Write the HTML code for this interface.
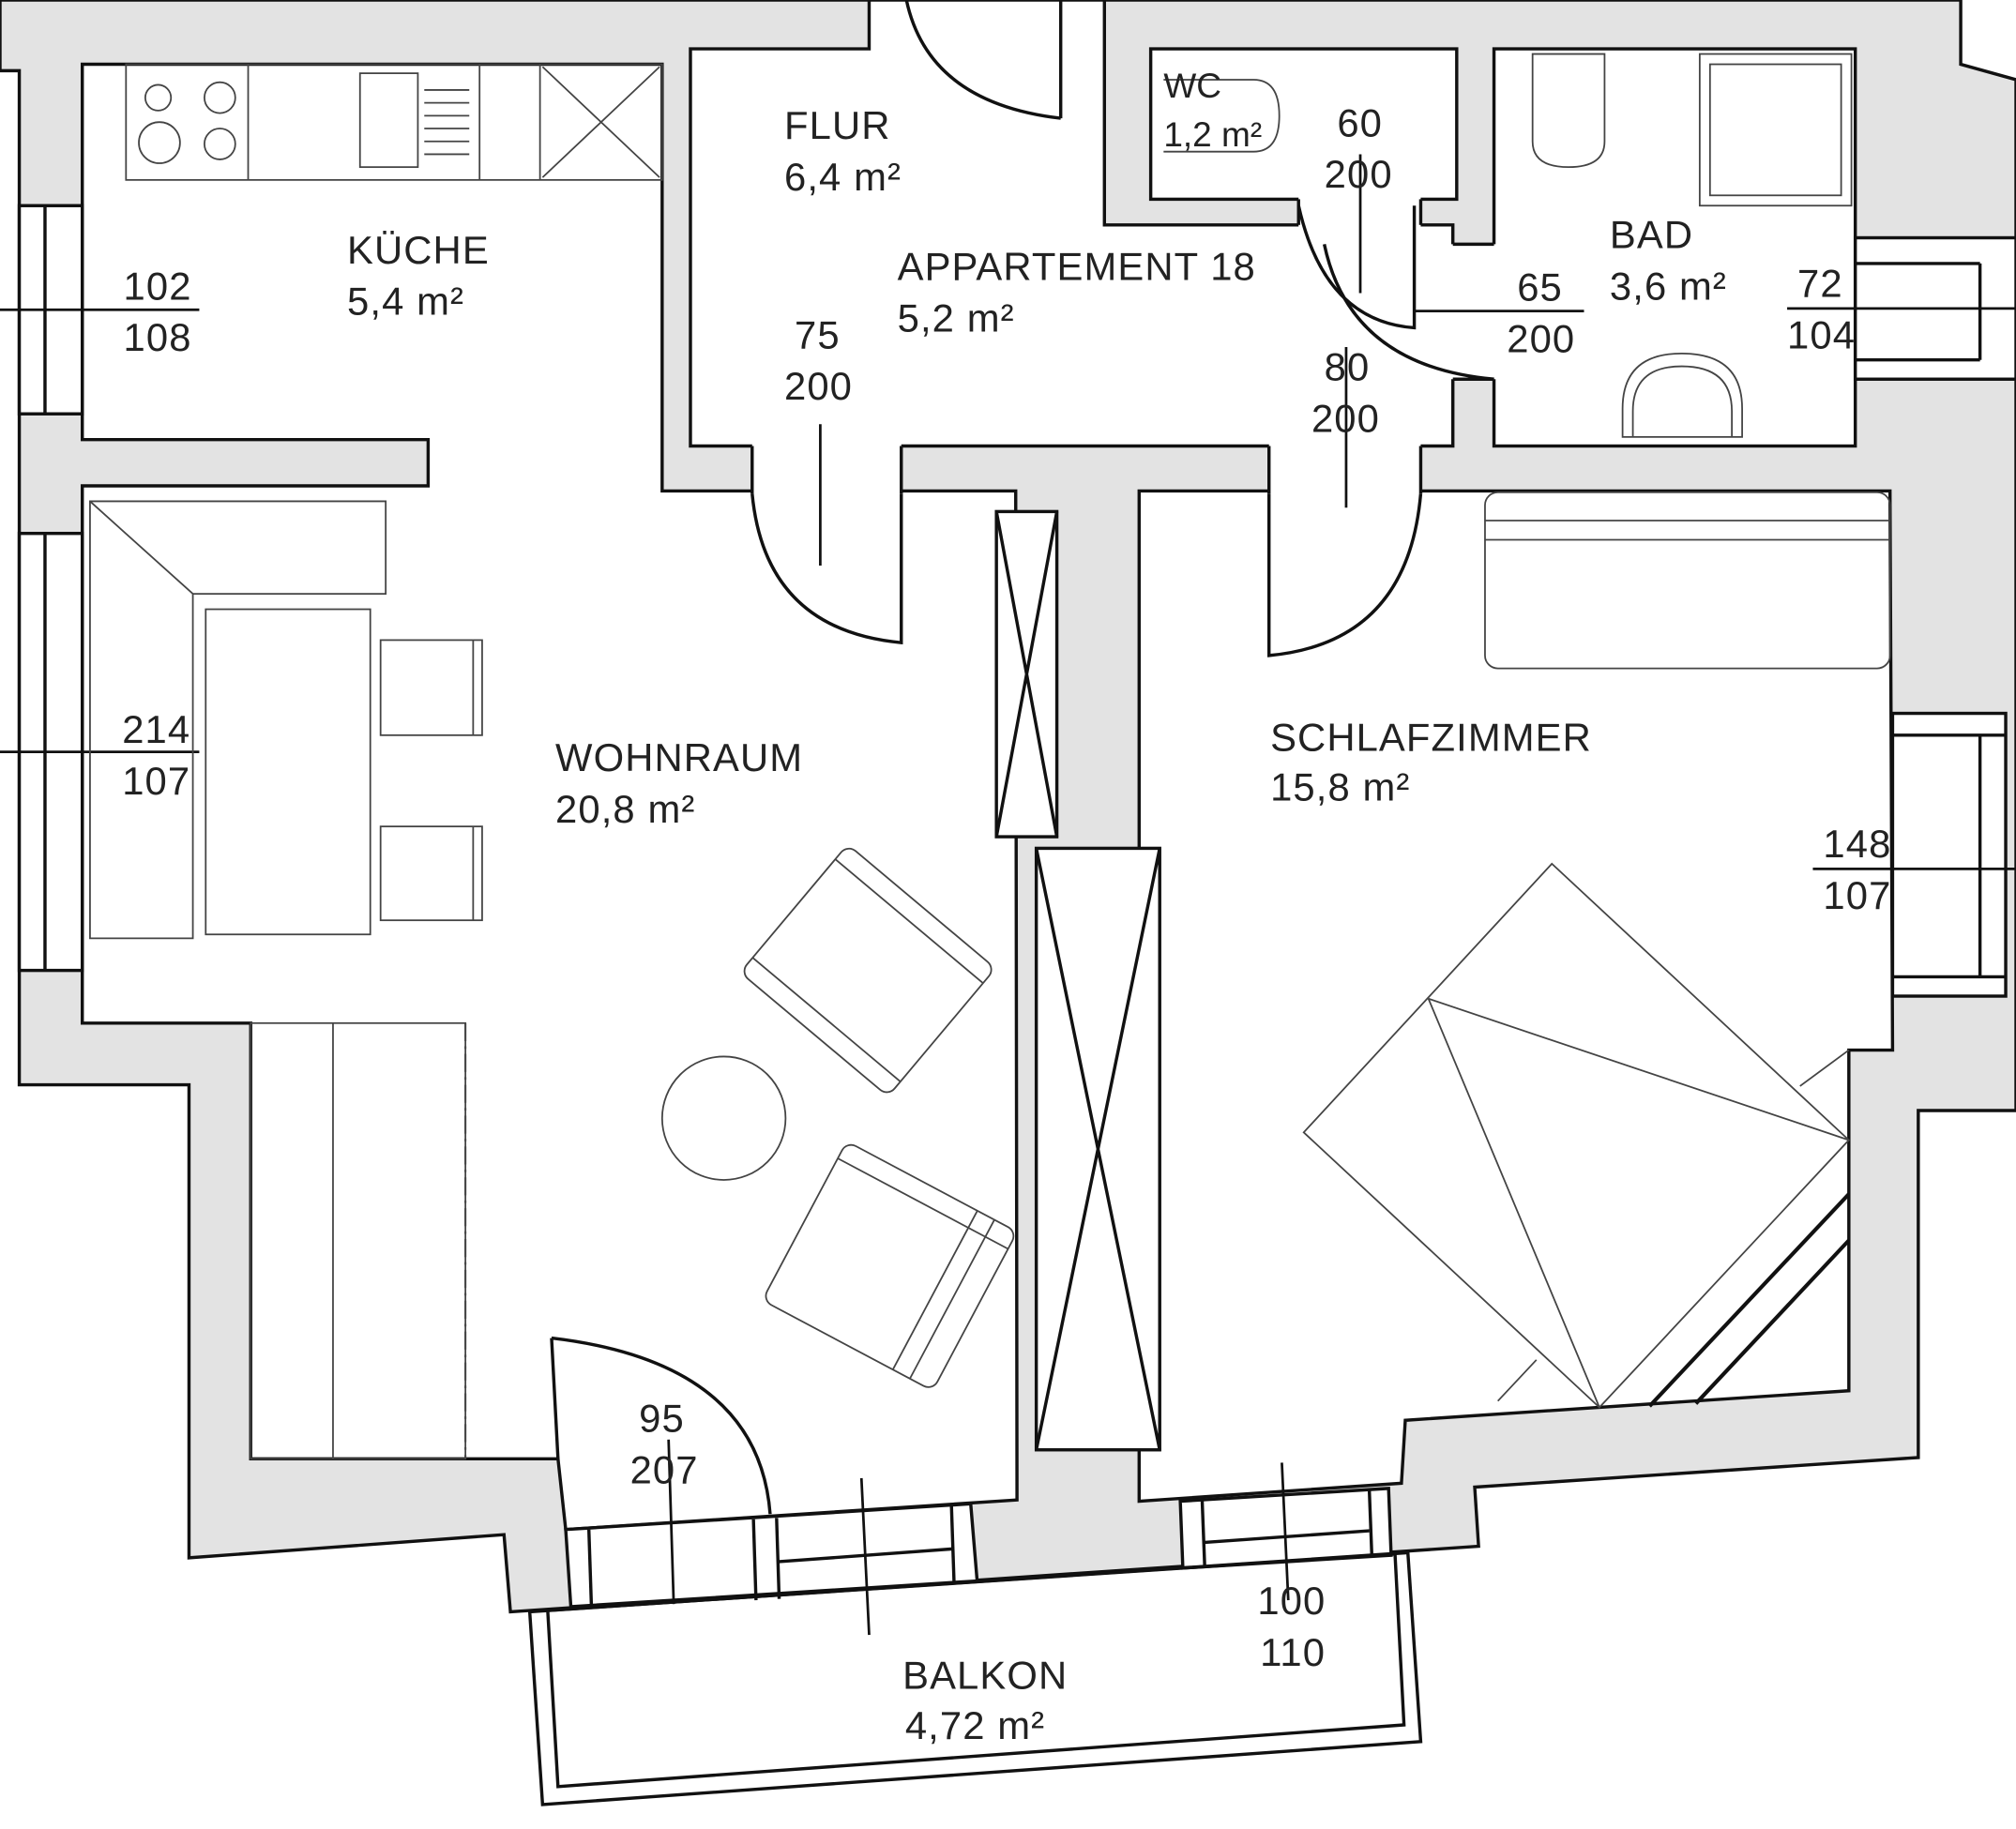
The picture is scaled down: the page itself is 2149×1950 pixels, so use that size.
<!DOCTYPE html>
<html><head><meta charset="utf-8"><style>
html,body{margin:0;padding:0;background:#fff;}
svg{display:block;}
text{font-family:"Liberation Sans",Arial,sans-serif;font-size:30.5px;letter-spacing:0.8px;fill:#222;}
</style></head><body>
<svg width="2149" height="1950" viewBox="0 0 1568 1423" preserveAspectRatio="none" xmlns="http://www.w3.org/2000/svg">
<rect width="1568" height="1423" fill="#fff"/>
<polygon points="0,0 1525,0 1525,50 1568,62 1568,864 1492,864 1492,1134 1147,1157 1150,1203 766,1229 397,1254 392,1194 147,1212 147,844 15,844 15,55 0,55" fill="#e3e3e3" stroke="#111" stroke-width="2.5"/>
<rect x="676" y="0" width="183" height="40" fill="#fff"/>
<g fill="#fff" stroke="#111" stroke-width="2.5">
<polygon points="64,50 515,50 515,382 790,382 791,1167 440,1190 434,1135 195,1135 195,796 64,796 64,378 333,378 333,342 64,342"/>
<polygon points="537,38 676,38 676,0 859,0 859,175 1130,175 1130,347 537,347"/>
<rect x="895" y="38" width="238" height="117"/>
<rect x="1162" y="38" width="281" height="309"/>
<polygon points="886,382 1470,382 1472,817 1438,817 1438,1082 1093,1105 1090,1154 886,1168"/>
</g>
<g fill="#fff" stroke="none">
<rect x="585" y="345" width="116" height="39"/>
<rect x="987" y="345" width="118" height="39"/>
<rect x="1010" y="152" width="95" height="25"/>
<rect x="1128" y="190" width="36" height="105"/>
</g>
<g fill="none" stroke="#111" stroke-width="2.5">
<line x1="585" y1="347" x2="585" y2="384"/><line x1="701" y1="347" x2="701" y2="384"/>
<line x1="987" y1="347" x2="987" y2="384"/><line x1="1105" y1="347" x2="1105" y2="384"/>
<line x1="1130" y1="190" x2="1162" y2="190"/><line x1="1130" y1="295" x2="1162" y2="295"/>
<line x1="1010" y1="155" x2="1010" y2="175"/><line x1="1105" y1="155" x2="1105" y2="175"/>
<line x1="825" y1="0" x2="825" y2="92"/><path d="M705,0 Q722,80 825,92"/>
<path d="M585,384 Q595,490 701,500 L701,384"/>
<path d="M987,384 L987,510 Q1095,500 1105,384"/>
<path d="M1010,160 Q1030,250 1100,255 L1100,160"/>
<path d="M1030,190 Q1050,285 1162,295"/>
<path d="M429,1041 Q590,1060 599,1178 M429,1041 L434,1135"/>
<rect x="775" y="398" width="47" height="253" fill="#fff"/>
<path d="M775,398 L822,651 M822,398 L775,651"/>
<rect x="806" y="660" width="96" height="468" fill="#fff"/>
<path d="M806,660 L902,1128 M902,660 L806,1128"/>
<rect x="15" y="160" width="49" height="162" fill="#fff"/>
<line x1="35" y1="160" x2="35" y2="322"/>
<rect x="15" y="415" width="49" height="340" fill="#fff"/>
<line x1="35" y1="415" x2="35" y2="755"/>
<rect x="1443" y="185" width="125" height="110" fill="#fff"/>
<line x1="1443" y1="205" x2="1540" y2="205"/><line x1="1443" y1="280" x2="1540" y2="280"/><line x1="1540" y1="205" x2="1540" y2="280"/>
<rect x="1472" y="555" width="88" height="220" fill="#fff"/>
<line x1="1472" y1="572" x2="1560" y2="572"/><line x1="1472" y1="760" x2="1560" y2="760"/><line x1="1540" y1="572" x2="1540" y2="760"/>
<polygon points="440,1190 755,1170 760,1230 444,1250" fill="#fff"/>
<line x1="458" y1="1190" x2="460" y2="1250"/><line x1="586" y1="1182" x2="588" y2="1245"/><line x1="604" y1="1181" x2="606" y2="1244"/>
<line x1="740" y1="1171" x2="742" y2="1230"/><line x1="606" y1="1215" x2="742" y2="1205"/>
<polygon points="918,1168 1080,1158 1082,1210 920,1220" fill="#fff"/>
<line x1="935" y1="1167" x2="937" y2="1219"/><line x1="1065" y1="1159" x2="1067" y2="1211"/><line x1="937" y1="1200" x2="1065" y2="1191"/>
<polygon points="412,1254 1095,1208 1105,1355 422,1404"/>
<polygon points="426,1253 1085,1209 1092,1342 434,1390"/>
<line x1="0" y1="241" x2="155" y2="241" stroke-width="2"/>
<line x1="0" y1="585" x2="155" y2="585" stroke-width="2"/>
<line x1="638" y1="330" x2="638" y2="440" stroke-width="2"/>
<line x1="1047" y1="270" x2="1047" y2="395" stroke-width="2"/>
<line x1="1058" y1="120" x2="1058" y2="228" stroke-width="2"/>
<line x1="1100" y1="242" x2="1232" y2="242" stroke-width="2"/>
<line x1="1390" y1="240" x2="1568" y2="240" stroke-width="2"/>
<line x1="1410" y1="676" x2="1568" y2="676" stroke-width="2"/>
<line x1="520" y1="1120" x2="524" y2="1248" stroke-width="2"/>
<line x1="670" y1="1150" x2="676" y2="1272" stroke-width="2"/>
<line x1="997" y1="1138" x2="1002" y2="1245" stroke-width="2"/>
<line x1="1438" y1="929" x2="1283" y2="1094" stroke-width="3"/>
<line x1="1438" y1="965" x2="1319" y2="1092" stroke-width="3"/>
</g>
<g fill="none" stroke="#444" stroke-width="1.3">
<rect x="98" y="50" width="417" height="90"/>
<line x1="193" y1="50" x2="193" y2="140"/><line x1="373" y1="50" x2="373" y2="140"/><line x1="420" y1="50" x2="420" y2="140"/>
<circle cx="123" cy="76" r="10"/><circle cx="171" cy="76" r="12"/><circle cx="124" cy="111" r="16"/><circle cx="171" cy="112" r="12"/>
<rect x="280" y="57" width="45" height="73"/>
<path d="M330,70 H365 M330,80 H365 M330,90 H365 M330,100 H365 M330,110 H365 M330,120 H365"/>
<path d="M422,52 L513,138 M513,52 L422,138"/>
<path d="M70,390 H300 V462 H150 V730 H70 Z"/><path d="M70,390 L150,462"/>
<rect x="160" y="474" width="128" height="253"/>
<rect x="296" y="498" width="79" height="74"/><line x1="368" y1="498" x2="368" y2="572"/>
<rect x="296" y="643" width="79" height="73"/><line x1="368" y1="643" x2="368" y2="716"/>
<rect x="195" y="796" width="167" height="339"/>
<line x1="259" y1="796" x2="259" y2="1135"/>
<circle cx="563" cy="870" r="48"/>
<g transform="translate(675,755) rotate(40)"><rect x="-75" y="-65" width="150" height="130" rx="8"/><line x1="-75" y1="50" x2="75" y2="50"/><line x1="-75" y1="-50" x2="75" y2="-50"/></g>
<g transform="translate(692,985) rotate(28)"><rect x="-75" y="-70" width="150" height="140" rx="8"/><line x1="55" y1="-70" x2="55" y2="70"/><line x1="40" y1="-70" x2="40" y2="70"/><line x1="-75" y1="-55" x2="75" y2="-55"/></g>
<rect x="1155" y="383" width="315" height="137" rx="10"/><line x1="1155" y1="405" x2="1470" y2="405"/><line x1="1155" y1="420" x2="1470" y2="420"/>
<polygon points="1207,672 1438,887 1244,1095 1014,881"/>
<path d="M1111,777 L1438,887 M1111,777 L1244,1095"/>
<path d="M1400,845 L1438,817 M1165,1090 L1195,1058"/>
<path d="M905,62 H975 Q995,62 995,90 Q995,118 975,118 H905"/>
<path d="M1192,42 H1248 V110 Q1248,130 1220,130 Q1192,130 1192,110 Z"/>
<rect x="1322" y="42" width="118" height="118"/><rect x="1330" y="50" width="102" height="102"/>
<path d="M1262,340 V318 Q1262,275 1308,275 Q1355,275 1355,318 V340 Z"/><path d="M1270,340 V320 Q1270,285 1308,285 Q1347,285 1347,320 V340"/>
</g>
<line x1="362" y1="796" x2="362" y2="1135" stroke="#444" stroke-width="1.5" stroke-dasharray="14,4,2,4"/>
<text x="96" y="233">102</text><text x="96" y="273">108</text>
<text x="270" y="205">KÜCHE</text><text x="270" y="245">5,4 m²</text>
<text x="610" y="108">FLUR</text><text x="610" y="148">6,4 m²</text>
<text x="905" y="76" style="font-size:27px;letter-spacing:0">WC</text><text x="905" y="114" style="font-size:27px;letter-spacing:0">1,2 m²</text>
<text x="1040" y="106">60</text><text x="1030" y="146">200</text>
<text x="698" y="218">APPARTEMENT 18</text><text x="698" y="258">5,2  m²</text>
<text x="618" y="271">75</text><text x="610" y="311">200</text>
<text x="1030" y="296">80</text><text x="1020" y="336">200</text>
<text x="1180" y="234">65</text><text x="1172" y="274">200</text>
<text x="1252" y="193">BAD</text><text x="1252" y="233">3,6 m²</text>
<text x="1398" y="231">72</text><text x="1390" y="271">104</text>
<text x="95" y="578">214</text><text x="95" y="618">107</text>
<text x="432" y="600">WOHNRAUM</text><text x="432" y="640">20,8 m²</text>
<text x="988" y="584">SCHLAFZIMMER</text><text x="988" y="623">15,8 m²</text>
<text x="1418" y="667">148</text><text x="1418" y="707">107</text>
<text x="497" y="1114">95</text><text x="490" y="1154">207</text>
<text x="978" y="1256">100</text><text x="980" y="1296">110</text>
<text x="702" y="1314">BALKON</text><text x="704" y="1353">4,72 m²</text>
</svg>
</body></html>
